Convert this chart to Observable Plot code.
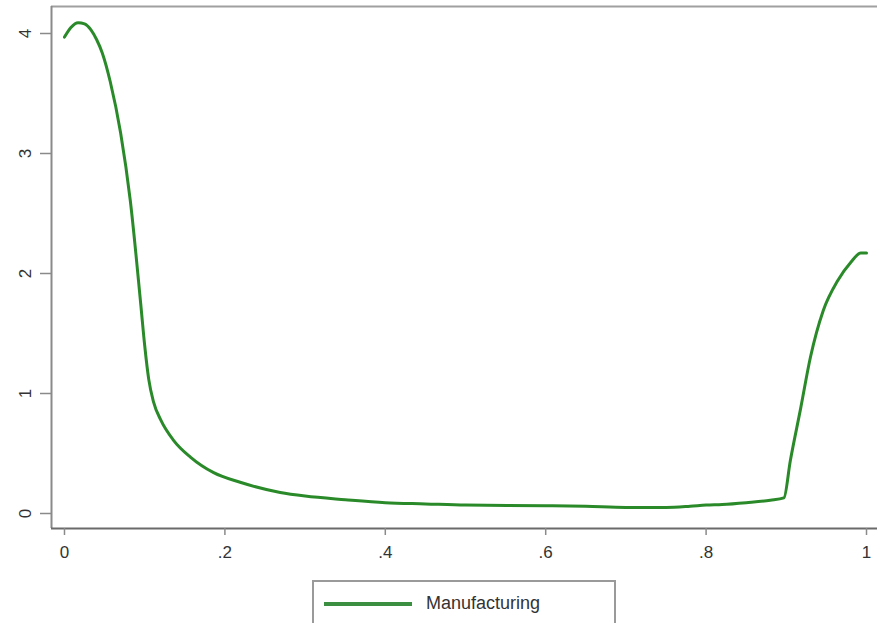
<!DOCTYPE html>
<html>
<head>
<meta charset="utf-8">
<script src="https://cdn.jsdelivr.net/npm/d3@7"></script>
<script src="https://cdn.jsdelivr.net/npm/@observablehq/plot@0.6"></script>
<style>
  html, body { margin: 0; padding: 0; background: #fff; }
  #chart { position: relative; width: 877px; height: 623px; overflow: hidden; }
  #legend {
    position: absolute; left: 312px; top: 580px; width: 304px; height: 46px;
    border: 2px solid #9a9a9a; box-sizing: border-box; background: #fff;
    font-family: "Liberation Sans", Arial, sans-serif; font-size: 18px; color: #333;
  }
  #legend .sw { position: absolute; left: 10px; top: 20px; width: 88px; height: 4px; background: #3a9040; }
  #legend .lb { position: absolute; left: 112px; top: 11px; }
</style>
</head>
<body>
<div id="chart"></div>
<script>
const xs = [0, 0.008, 0.017, 0.025, 0.033, 0.040, 0.047, 0.057, 0.070, 0.082, 0.095, 0.100, 0.105, 0.111, 0.120, 0.136, 0.157, 0.186, 0.219, 0.269, 0.30, 0.35, 0.40, 0.45, 0.50, 0.60, 0.65, 0.70, 0.75, 0.78, 0.80, 0.82, 0.85, 0.88, 0.897, 0.905, 0.918, 0.930, 0.946, 0.964, 0.980, 0.993, 1.0];
const ys = [3.97, 4.05, 4.09, 4.08, 4.03, 3.95, 3.84, 3.60, 3.17, 2.61, 1.75, 1.40, 1.12, 0.93, 0.78, 0.61, 0.47, 0.34, 0.26, 0.175, 0.145, 0.115, 0.09, 0.08, 0.07, 0.065, 0.06, 0.05, 0.05, 0.06, 0.07, 0.075, 0.09, 0.11, 0.13, 0.44, 0.88, 1.30, 1.69, 1.94, 2.09, 2.17, 2.17];
const xTicks = [0, 0.2, 0.4, 0.6, 0.8, 1];
const xTickLabels = ["0", ".2", ".4", ".6", ".8", "1"];
const yTicks = [0, 1, 2, 3, 4];
const yTickLabels = ["0", "1", "2", "3", "4"];
const seriesName = "Manufacturing";

const data = xs.map((x, i) => ({x, y: ys[i]}));
const xDom = [-0.0162, 1.0137];
const yDom = [-0.125, 4.225];
const font = "Liberation Sans, Arial, sans-serif";

const plot = Plot.plot({
  width: 877,
  height: 575,
  marginLeft: 51,
  marginRight: 0,
  marginTop: 6,
  marginBottom: 47,
  x: {domain: xDom, label: null},
  y: {domain: yDom, label: null},
  style: {fontFamily: font, background: "#fff"},
  marks: [
    Plot.ruleY([yDom[1]], {stroke: "#a0a0a0", strokeWidth: 2}),
    Plot.ruleX([xDom[0]], {stroke: "#8a8a8a", strokeWidth: 2}),
    Plot.ruleY([yDom[0]], {stroke: "#6a6a6a", strokeWidth: 2}),
    Plot.axisX({ticks: xTicks, tickFormat: (d) => xTickLabels[xTicks.indexOf(d)], tickSize: 7, tickPadding: 10, fontSize: 17, stroke: "#8a8a8a", fill: "#333", strokeWidth: 1.5, label: null}),
    Plot.axisY({ticks: yTicks, tickSize: 11, tickFormat: (d) => yTickLabels[yTicks.indexOf(d)], tickRotate: -90, tickPadding: 10, fontSize: 17, stroke: "#8a8a8a", fill: "#333", strokeWidth: 1.5, label: null}),
    Plot.line(data, {x: "x", y: "y", stroke: "#2a8a2a", strokeWidth: 3, curve: "monotone-x"})
  ]
});
const chart = document.getElementById("chart");
chart.appendChild(plot);
const leg = document.createElement("div");
leg.id = "legend";
leg.innerHTML = `<div class="sw"></div><div class="lb">${seriesName}</div>`;
chart.appendChild(leg);
</script>
</body>
</html>
